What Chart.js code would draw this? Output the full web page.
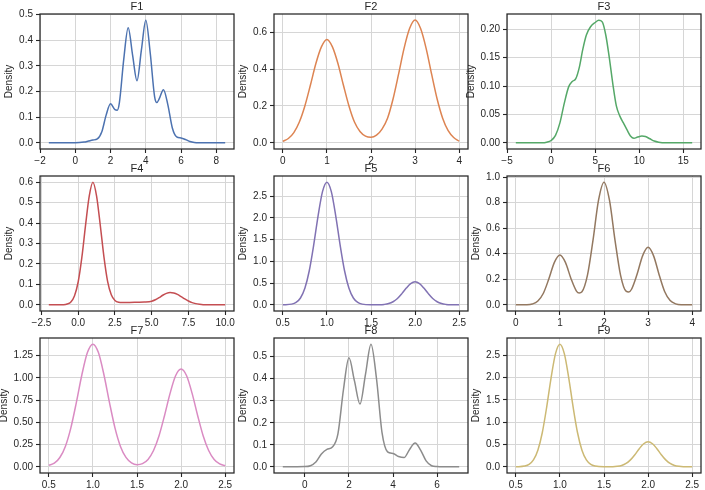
<!DOCTYPE html>
<html>
<head>
<meta charset="utf-8">
<script src="https://cdn.jsdelivr.net/npm/chart.js@4.4.1/dist/chart.umd.min.js"></script>
<style>
  html, body { margin: 0; padding: 0; background: #fff; overflow: hidden; }
  #wrap { position: relative; width: 705px; height: 490px; background: #fff; }
  #wrap canvas { position: absolute; }
</style>
</head>
<body>
<div id="wrap"></div>
<script>
// --- data (density curves F1..F9) ---
const names = ['F1', 'F2', 'F3', 'F4', 'F5', 'F6', 'F7', 'F8', 'F9'];
const colors = ['#4C72B0', '#DD8452', '#55A868', '#C44E52', '#8172B3', '#937860', '#DA8BC3', '#8C8C8C', '#CCB974'];

const f1X = [-1.5, 0, 0.5, 0.75, 1, 1.25, 1.5, 1.75, 2, 2.25, 2.375, 2.5, 2.75, 3, 3.25, 3.5, 3.75, 4, 4.25, 4.5, 4.625, 4.75, 5, 5.25, 5.5, 5.75, 6, 6.25, 6.5, 6.75, 7, 8.5];
const f1Y = [0, 0, 0.003, 0.007, 0.011, 0.015, 0.042, 0.108, 0.152, 0.129, 0.127, 0.156, 0.326, 0.448, 0.342, 0.242, 0.362, 0.478, 0.35, 0.179, 0.157, 0.17, 0.207, 0.148, 0.059, 0.023, 0.019, 0.013, 0.005, 0.001, 0, 0];

const f2X = [0, 0.125, 0.25, 0.375, 0.5, 0.625, 0.75, 0.875, 1, 1.125, 1.25, 1.375, 1.5, 1.625, 1.75, 1.875, 2, 2.125, 2.25, 2.375, 2.5, 2.625, 2.75, 2.875, 3, 3.125, 3.25, 3.375, 3.5, 3.625, 3.75, 3.875, 4];
const f2Y = [0.008, 0.024, 0.056, 0.113, 0.2, 0.312, 0.43, 0.52, 0.56, 0.52, 0.43, 0.312, 0.2, 0.113, 0.062, 0.037, 0.031, 0.042, 0.075, 0.134, 0.238, 0.372, 0.512, 0.619, 0.665, 0.619, 0.512, 0.372, 0.238, 0.134, 0.066, 0.029, 0.009];

const f3X = [-4, -1, -0.5, 0, 0.5, 1, 1.5, 2, 2.4, 2.8, 3.2, 3.6, 4, 4.5, 5, 5.4, 5.8, 6.2, 6.6, 7, 7.4, 7.8, 8.2, 8.6, 9, 9.4, 9.8, 10.3, 10.7, 11.2, 11.7, 12.2, 13, 16];
const f3Y = [0, 0, 0.001, 0.004, 0.013, 0.035, 0.07, 0.099, 0.108, 0.113, 0.133, 0.165, 0.19, 0.205, 0.212, 0.216, 0.213, 0.19, 0.15, 0.104, 0.065, 0.047, 0.035, 0.023, 0.012, 0.008, 0.01, 0.012, 0.011, 0.007, 0.003, 0.001, 0, 0];

const f4X = [-2, -1, -0.75, -0.5, -0.25, 0, 0.25, 0.5, 0.75, 1, 1.25, 1.5, 1.75, 2, 2.25, 2.5, 2.75, 3, 3.5, 4, 4.5, 5, 5.25, 5.5, 5.75, 6, 6.25, 6.5, 6.75, 7, 7.25, 7.5, 7.75, 8, 8.25, 8.5, 9, 10];
const f4Y = [0, 0.001, 0.004, 0.014, 0.045, 0.113, 0.233, 0.39, 0.532, 0.6, 0.532, 0.39, 0.235, 0.115, 0.049, 0.021, 0.013, 0.012, 0.012, 0.013, 0.014, 0.018, 0.025, 0.035, 0.047, 0.056, 0.06, 0.058, 0.051, 0.04, 0.029, 0.019, 0.011, 0.006, 0.003, 0.001, 0, 0];

const f5X = [0.5, 0.6, 0.65, 0.7, 0.75, 0.8, 0.85, 0.9, 0.95, 1, 1.05, 1.1, 1.15, 1.2, 1.25, 1.3, 1.35, 1.4, 1.5, 1.6, 1.65, 1.7, 1.75, 1.8, 1.85, 1.9, 1.95, 2, 2.05, 2.1, 2.15, 2.2, 2.25, 2.3, 2.35, 2.4, 2.5];
const f5Y = [0.001, 0.017, 0.056, 0.158, 0.381, 0.784, 1.373, 2.047, 2.603, 2.82, 2.603, 2.047, 1.373, 0.784, 0.381, 0.158, 0.056, 0.017, 0.002, 0.003, 0.011, 0.03, 0.072, 0.147, 0.258, 0.385, 0.489, 0.53, 0.489, 0.385, 0.258, 0.147, 0.072, 0.03, 0.011, 0.003, 0.001];

const f6X = [0, 0.25, 0.375, 0.5, 0.625, 0.75, 0.875, 1, 1.125, 1.25, 1.375, 1.4375, 1.5, 1.625, 1.75, 1.875, 2, 2.125, 2.25, 2.375, 2.5, 2.5625, 2.625, 2.75, 2.875, 3, 3.125, 3.25, 3.375, 3.5, 3.625, 3.75, 4];
const f6Y = [0, 0.001, 0.007, 0.03, 0.091, 0.204, 0.332, 0.39, 0.332, 0.207, 0.108, 0.093, 0.102, 0.232, 0.504, 0.817, 0.96, 0.817, 0.505, 0.233, 0.107, 0.101, 0.122, 0.239, 0.383, 0.45, 0.383, 0.236, 0.105, 0.034, 0.008, 0.001, 0];

const f7X = [0.5, 0.5625, 0.625, 0.6875, 0.75, 0.8125, 0.875, 0.9375, 1, 1.0625, 1.125, 1.1875, 1.25, 1.3125, 1.375, 1.4375, 1.5, 1.5625, 1.625, 1.6875, 1.75, 1.8125, 1.875, 1.9375, 2, 2.0625, 2.125, 2.1875, 2.25, 2.3125, 2.375, 2.4375, 2.5];
const f7Y = [0.018, 0.041, 0.105, 0.23, 0.439, 0.725, 1.036, 1.285, 1.38, 1.285, 1.036, 0.725, 0.439, 0.23, 0.106, 0.045, 0.025, 0.037, 0.084, 0.184, 0.35, 0.578, 0.826, 1.024, 1.1, 1.024, 0.826, 0.578, 0.35, 0.184, 0.083, 0.033, 0.013];

const f8X = [-1, 0, 0.25, 0.5, 0.75, 1, 1.25, 1.5, 1.75, 2, 2.25, 2.5, 2.75, 3, 3.25, 3.5, 3.75, 4, 4.25, 4.5, 4.75, 5, 5.25, 5.5, 5.75, 6, 6.25, 7];
const f8Y = [0, 0.001, 0.005, 0.022, 0.058, 0.079, 0.09, 0.15, 0.35, 0.495, 0.39, 0.285, 0.42, 0.557, 0.4, 0.155, 0.068, 0.061, 0.047, 0.042, 0.079, 0.108, 0.076, 0.027, 0.005, 0.001, 0, 0];

const f9X = [0.5, 0.6, 0.65, 0.7, 0.75, 0.8, 0.85, 0.9, 0.95, 1, 1.05, 1.1, 1.15, 1.2, 1.25, 1.3, 1.35, 1.4, 1.5, 1.6, 1.65, 1.7, 1.75, 1.8, 1.85, 1.9, 1.95, 2, 2.05, 2.1, 2.15, 2.2, 2.25, 2.3, 2.35, 2.4, 2.5];
const f9Y = [0.001, 0.017, 0.054, 0.154, 0.371, 0.764, 1.339, 1.996, 2.538, 2.75, 2.538, 1.996, 1.339, 0.764, 0.371, 0.154, 0.054, 0.017, 0.002, 0.003, 0.011, 0.031, 0.076, 0.156, 0.273, 0.407, 0.517, 0.56, 0.517, 0.407, 0.273, 0.156, 0.076, 0.031, 0.011, 0.003, 0.001];

// tick values per panel
const xTicks = [
    [-2, 0, 2, 4, 6, 8],
    [0, 1, 2, 3, 4],
    [-5, 0, 5, 10, 15],
    [-2.5, 0, 2.5, 5, 7.5, 10],
    [0.5, 1, 1.5, 2, 2.5],
    [0, 1, 2, 3, 4],
    [0.5, 1, 1.5, 2, 2.5],
    [0, 2, 4, 6],
    [0.5, 1, 1.5, 2, 2.5]
];
const yTicks = [
    [0, 0.1, 0.2, 0.3, 0.4, 0.5],
    [0, 0.2, 0.4, 0.6],
    [0, 0.05, 0.1, 0.15, 0.2],
    [0, 0.1, 0.2, 0.3, 0.4, 0.5, 0.6],
    [0, 0.5, 1, 1.5, 2, 2.5],
    [0, 0.2, 0.4, 0.6, 0.8, 1],
    [0, 0.25, 0.5, 0.75, 1, 1.25],
    [0, 0.1, 0.2, 0.3, 0.4, 0.5],
    [0, 0.5, 1, 1.5, 2, 2.5]
];
const xDec = [0, 0, 0, 1, 1, 0, 1, 0, 1];
const yDec = [1, 1, 2, 1, 1, 1, 2, 1, 1];

// axis limits per panel
const xMin = [-2, -0.2, -5, -2.6, 0.4, -0.2, 0.4, -1.4, 0.4];
const xMax = [9, 4.2, 17, 10.6, 2.6, 4.2, 2.6, 7.4, 2.6];
const yMin = [-0.024, -0.033, -0.011, -0.03, -0.141, -0.048, -0.069, -0.028, -0.138];
const yMax = [0.502, 0.698, 0.227, 0.63, 2.961, 1.008, 1.449, 0.585, 2.888];

const xs = [f1X, f2X, f3X, f4X, f5X, f6X, f7X, f8X, f9X];
const ys = [f1Y, f2Y, f3Y, f4Y, f5Y, f6Y, f7Y, f8Y, f9Y];

// layout of the 3x3 grid (plot area corners)
const colLeft = [40, 274, 507];
const rowTop = [14, 176, 338];
const plotW = 194, plotH = 135;
const padL = 50, padT = 18, padR = 25, padB = 28;

const FONT = "'Liberation Sans', Arial, sans-serif";
const INK = '#262626';
const GRID = '#d6d6d6';

function fmt(v, d) {
    const s = Math.abs(v).toFixed(d);
    return (v < -1e-9 ? '\u2212' : '') + s;
}

// frame, panel title and y label
const framePlugin = {
    id: 'frame',
    afterDraw(chart, args, opts) {
        const a = chart.chartArea, ctx = chart.ctx;
        ctx.save();
        ctx.strokeStyle = INK;
        ctx.lineWidth = 1.25;
        ctx.strokeRect(a.left, a.top, a.right - a.left, a.bottom - a.top);

        ctx.fillStyle = INK;
        ctx.font = '11px ' + FONT;
        ctx.textAlign = 'center';
        ctx.textBaseline = 'alphabetic';
        ctx.fillText(opts.title, (a.left + a.right) / 2, a.top - 4);

        ctx.font = '10px ' + FONT;
        let w = 0;
        chart.scales.y.ticks.forEach(t => { w = Math.max(w, ctx.measureText(t.label).width); });
        ctx.translate(a.left - 7 - w - 9.5, (a.top + a.bottom) / 2);
        ctx.rotate(-Math.PI / 2);
        ctx.textBaseline = 'middle';
        ctx.fillText('Density', 0, 0);
        ctx.restore();
    }
};

const wrap = document.getElementById('wrap');

for (let i = 0; i < 9; i++) {
    const col = i % 3, row = Math.floor(i / 3);
    const cv = document.createElement('canvas');
    cv.width = padL + plotW + padR;
    cv.height = padT + plotH + padB;
    cv.style.left = (colLeft[col] - padL) + 'px';
    cv.style.top = (rowTop[row] - padT) + 'px';
    wrap.appendChild(cv);

    new Chart(cv, {
        type: 'line',
        data: {
            datasets: [{
                label: names[i],
                data: xs[i].map((x, k) => ({ x: x, y: ys[i][k] })),
                borderColor: colors[i],
                borderWidth: 1.5,
                pointRadius: 0,
                fill: false,
                cubicInterpolationMode: 'monotone'
            }]
        },
        options: {
            responsive: false,
            animation: false,
            devicePixelRatio: 1,
            layout: { padding: { left: 0, top: padT, right: padR, bottom: 0 } },
            plugins: {
                legend: { display: false },
                tooltip: { enabled: false },
                frame: { title: names[i] }
            },
            scales: {
                x: {
                    type: 'linear',
                    bounds: 'data',
                    min: xMin[i],
                    max: xMax[i],
                    afterBuildTicks: s => { s.ticks = xTicks[i].map(v => ({ value: v })); },
                    afterFit: s => { s.height = padB; },
                    border: { display: false },
                    grid: { color: GRID, lineWidth: 1, tickLength: 4, tickColor: INK, tickWidth: 1.1 },
                    ticks: {
                        autoSkip: false,
                        maxRotation: 0,
                        padding: 2,
                        color: INK,
                        font: { family: FONT, size: 10 },
                        callback: v => fmt(v, xDec[i])
                    }
                },
                y: {
                    type: 'linear',
                    bounds: 'data',
                    min: yMin[i],
                    max: yMax[i],
                    afterBuildTicks: s => { s.ticks = yTicks[i].map(v => ({ value: v })); },
                    afterFit: s => { s.width = padL; },
                    border: { display: false },
                    grid: { color: GRID, lineWidth: 1, tickLength: 4, tickColor: INK, tickWidth: 1.1 },
                    ticks: {
                        autoSkip: false,
                        padding: 3,
                        color: INK,
                        font: { family: FONT, size: 10 },
                        callback: v => fmt(v, yDec[i])
                    }
                }
            }
        },
        plugins: [framePlugin]
    });
}
</script>
</body>
</html>
